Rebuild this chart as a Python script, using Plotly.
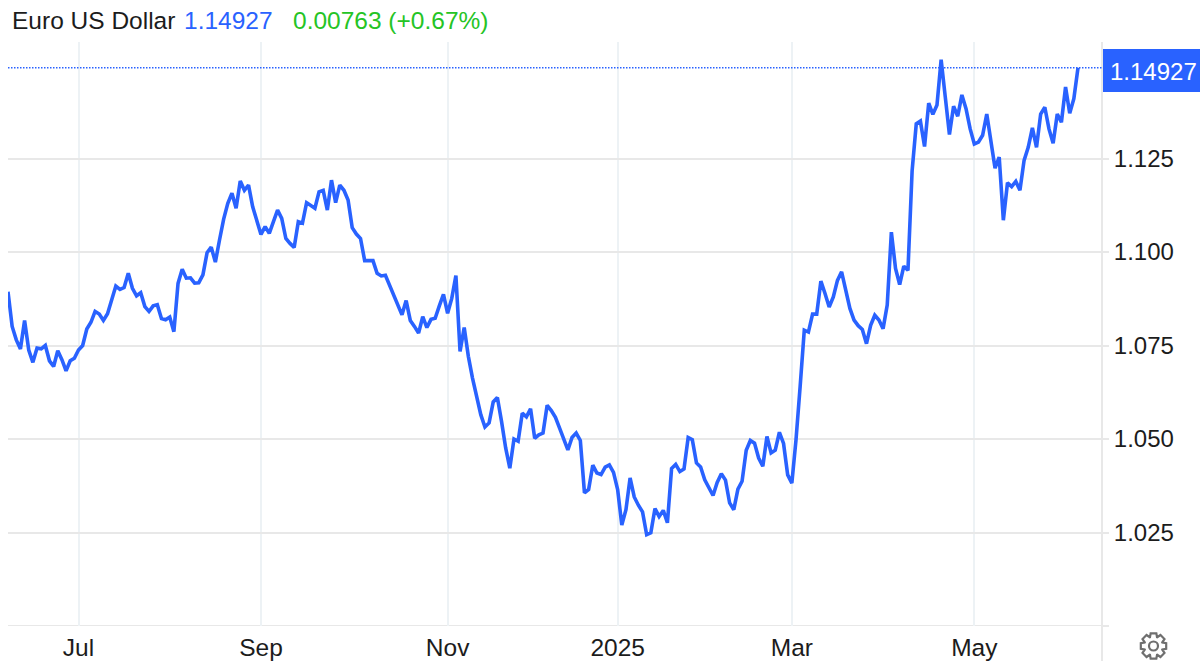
import math
import pandas as pd
import plotly.graph_objects as go

TITLE = "Euro US Dollar"
LAST_TEXT = "1.14927"
CHANGE_TEXT = "0.00763 (+0.67%)"
LAST_VALUE = 1.14927
HOLIDAYS = ["2024-07-04", "2024-12-25", "2025-01-01"]
START_DATE = "2024-06-06"
END_DATE = "2025-06-06"

values = [
    1.0894, 1.0801, 1.0765, 1.0741, 1.0817, 1.0738, 1.0705, 1.0743, 1.0741, 1.0750,
    1.0709, 1.0694, 1.0736, 1.0712, 1.0682, 1.0709, 1.0716, 1.0738, 1.0750, 1.0794,
    1.0812, 1.0841, 1.0834, 1.0817, 1.0835, 1.0876, 1.0909, 1.0900, 1.0905, 1.0943,
    1.0903, 1.0883, 1.0891, 1.0854, 1.0841, 1.0856, 1.0859, 1.0822, 1.0819, 1.0826,
    1.0787, 1.0916, 1.0954, 1.0930, 1.0931, 1.0917, 1.0918, 1.0939, 1.0998, 1.1013,
    1.0973, 1.1032, 1.1088, 1.1130, 1.1157, 1.1117, 1.1190, 1.1165, 1.1179, 1.1121,
    1.1081, 1.1047, 1.1068, 1.1050, 1.1081, 1.1112, 1.1090, 1.1036, 1.1023, 1.1012,
    1.1081, 1.1077, 1.1132, 1.1125, 1.1117, 1.1161, 1.1165, 1.1112, 1.1192, 1.1132,
    1.1179, 1.1165, 1.1139, 1.1065, 1.1048, 1.1036, 1.0977, 1.0977, 1.0977, 1.0943,
    1.0936, 1.0938, 1.0910, 1.0884, 1.0859, 1.0832, 1.0870, 1.0817, 1.0801, 1.0783,
    1.0827, 1.0798, 1.0820, 1.0823, 1.0856, 1.0887, 1.0836, 1.0876, 1.0937, 1.0734,
    1.0798, 1.0721, 1.0663, 1.0609, 1.0565, 1.0532, 1.0543, 1.0599, 1.0611, 1.0547,
    1.0476, 1.0422, 1.0500, 1.0494, 1.0569, 1.0559, 1.0581, 1.0502, 1.0511, 1.0516,
    1.0590, 1.0576, 1.0558, 1.0529, 1.0501, 1.0471, 1.0504, 1.0516, 1.0496, 1.0356,
    1.0365, 1.0430, 1.0409, 1.0405, 1.0425, 1.0431, 1.0411, 1.0365, 1.0270, 1.0311,
    1.0396, 1.0345, 1.0323, 1.0305, 1.0244, 1.0249, 1.0314, 1.0293, 1.0309, 1.0276,
    1.0421, 1.0432, 1.0413, 1.0420, 1.0504, 1.0498, 1.0436, 1.0425, 1.0391, 1.0369,
    1.0349, 1.0384, 1.0407, 1.0390, 1.0329, 1.0311, 1.0366, 1.0387, 1.0470, 1.0496,
    1.0489, 1.0449, 1.0427, 1.0507, 1.0463, 1.0470, 1.0518, 1.0488, 1.0404, 1.0382,
    1.0497, 1.0640, 1.0791, 1.0786, 1.0834, 1.0834, 1.0922, 1.0889, 1.0853, 1.0880,
    1.0924, 1.0947, 1.0902, 1.0849, 1.0818, 1.0803, 1.0793, 1.0755, 1.0804, 1.0831,
    1.0818, 1.0795, 1.0858, 1.1053, 1.0956, 1.0913, 1.0962, 1.0951, 1.1217, 1.1343,
    1.1350, 1.1282, 1.1398, 1.1368, 1.1393, 1.1514, 1.1414, 1.1314, 1.1390, 1.1363,
    1.1420, 1.1383, 1.1329, 1.1289, 1.1294, 1.1312, 1.1369, 1.1289, 1.1224, 1.1254,
    1.1085, 1.1185, 1.1175, 1.1189, 1.1165, 1.1245, 1.1280, 1.1332, 1.1280, 1.1369,
    1.1387, 1.1329, 1.1291, 1.1369, 1.1347, 1.1441, 1.1371, 1.1410, 1.14927,
]

x_tick_dates = ["2024-07-01", "2024-09-02", "2024-11-04", "2025-01-02", "2025-03-03", "2025-05-02"]
x_tick_labels = ["Jul", "Sep", "Nov", "2025", "Mar", "May"]
y_ticks = [1.0, 1.025, 1.05, 1.075, 1.1, 1.125]
y_tick_labels = ["", "1.025", "1.050", "1.075", "1.100", "1.125"]

W, H = 1200, 661
L, R, T, B = 8, 1102, 42, 626
BLUE = "#2962ff"
FONT = "Liberation Sans"
GRID = "#e8e8e8"
GRID_V = "#edf2f5"

dates = [d.strftime("%Y-%m-%d") for d in pd.bdate_range(START_DATE, END_DATE) if d.strftime("%Y-%m-%d") not in HOLIDAYS]
assert len(dates) == len(values), (len(dates), len(values))

fig = go.Figure()
fig.add_trace(go.Scatter(
    x=dates, y=values, mode="lines", hoverinfo="skip",
    line=dict(color=BLUE, width=3.6, shape="linear"),
    showlegend=False,
))

def pax(x):
    return (x - L) / (R - L)

def pay(y):
    return (B - y) / (B - T)

shapes = [
    dict(type="line", xref="paper", yref="y", x0=0, x1=1, y0=LAST_VALUE, y1=LAST_VALUE,
         line=dict(color=BLUE, width=1.5, dash="1.5px,1.5px"), layer="above"),
    dict(type="line", xref="paper", yref="paper", x0=1, x1=1, y0=pay(661), y1=1,
         line=dict(color=GRID, width=2), layer="below"),
    dict(type="line", xref="paper", yref="y", x0=0, x1=pax(1108), y0=1.0, y1=1.0,
         line=dict(color=GRID, width=2), layer="below"),
    dict(type="rect", xref="paper", yref="paper", x0=pax(1103), x1=pax(1200), y0=pay(92), y1=pay(49),
         line=dict(width=0), fillcolor=BLUE, layer="above"),
]

cx, cy = 1153.5, 646
teeth = 8
pts = []
for i in range(teeth):
    a = 2 * math.pi * i / teeth - math.pi / 2
    w = 0.24
    for r, da in [(9.5, -w - 0.14), (13, -w + 0.02), (13, w - 0.02), (9.5, w + 0.14)]:
        pts.append((cx + r * math.cos(a + da), cy + r * math.sin(a + da)))
gear = "M " + " L ".join(f"{pax(p[0]):.5f},{pay(p[1]):.5f}" for p in pts) + " Z"
shapes.append(dict(type="path", xref="paper", yref="paper", path=gear,
                   line=dict(color="#6f6f6f", width=2.2), layer="above"))
shapes.append(dict(type="circle", xref="paper", yref="paper",
                   x0=pax(cx - 4.5), x1=pax(cx + 4.5), y0=pay(cy + 4.5), y1=pay(cy - 4.5),
                   line=dict(color="#6f6f6f", width=2.2), layer="above"))

def header(x, text, color):
    return dict(xref="paper", yref="paper", x=pax(x), y=pay(21), xanchor="left", yanchor="middle",
                text=text, showarrow=False, font=dict(family=FONT, size=24.5, color=color))

annotations = [
    header(10, TITLE, "#1c1c1c"),
    header(182, LAST_TEXT, BLUE),
    header(291, CHANGE_TEXT, "#25c425"),
    dict(xref="paper", yref="y", x=pax(1199), y=LAST_VALUE - 0.0009, xanchor="right", yanchor="middle",
         text=LAST_TEXT, showarrow=False, font=dict(family=FONT, size=24, color="#ffffff")),
]

per_point = (1078 - L) / (len(values) - 1)
per_value = 3740
fig.update_layout(
    width=W, height=H,
    autosize=False,
    margin=dict(l=L, r=W - R, t=T, b=H - B, pad=0, autoexpand=False),
    paper_bgcolor="#ffffff", plot_bgcolor="#ffffff",
    font=dict(family=FONT, size=24, color="#1c1c1c"),
    showlegend=False,
    shapes=shapes,
    annotations=annotations,
    xaxis=dict(
        type="category",
        range=[0, (R - L) / per_point],
        tickmode="array", tickvals=x_tick_dates, ticktext=x_tick_labels,
        showgrid=True, gridcolor=GRID_V, gridwidth=2,
        ticks="", showline=False, zeroline=False,
        ticklabelstandoff=4,
        tickfont=dict(family=FONT, size=24.5, color="#1c1c1c"),
    ),
    yaxis=dict(
        side="right",
        range=[1.0, 1.0 + (B - T) / per_value],
        tickmode="array", tickvals=y_ticks, ticktext=y_tick_labels,
        showgrid=True, gridcolor=GRID, gridwidth=2,
        ticks="outside", ticklen=6, tickwidth=2, tickcolor=GRID,
        showline=False, zeroline=False,
        ticklabelstandoff=0,
        tickfont=dict(family=FONT, size=24, color="#1c1c1c"),
    ),
)

fig.write_html("out.html", config={"displayModeBar": False},
               post_script="document.body.style.margin='0';document.body.style.overflow='hidden';")
